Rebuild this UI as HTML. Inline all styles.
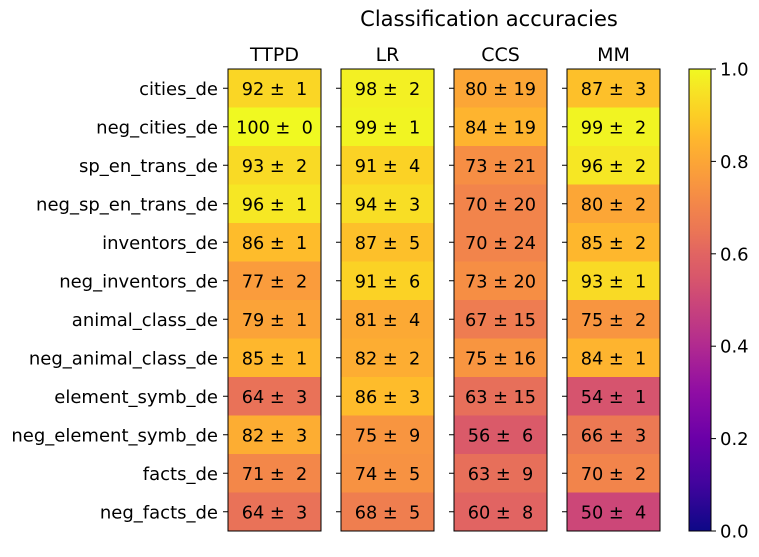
<!DOCTYPE html>
<html><head><meta charset="utf-8"><style>
html,body{margin:0;padding:0;background:#fff;}
svg text{font-family:"DejaVu Sans","Liberation Sans",sans-serif;white-space:pre;}
</style></head><body>
<svg id="s" width="759" height="552" xmlns="http://www.w3.org/2000/svg"></svg>
<script>
(function(){
const stops=[[0,'#0d0887'],[0.1,'#41049d'],[0.2,'#6a00a8'],[0.3,'#8f0da4'],[0.4,'#b12a90'],[0.5,'#cc4778'],[0.55,'#d8576b'],[0.6,'#e16462'],[0.65,'#eb7655'],[0.7,'#f2844b'],[0.75,'#f89540'],[0.8,'#fca636'],[0.85,'#feb72d'],[0.9,'#fcce25'],[0.95,'#f7e225'],[1,'#f0f921']];
function hx(h){return [1,3,5].map(i=>parseInt(h.substr(i,2),16));}
function cmap(v){for(let i=1;i<stops.length;i++){if(v<=stops[i][0]){const a=stops[i-1],b=stops[i];const t=(v-a[0])/(b[0]-a[0]);const ca=hx(a[1]),cb=hx(b[1]);return 'rgb('+ca.map((c,k)=>Math.round(c+(cb[k]-c)*t)).join(',')+')';}}return stops[stops.length-1][1];}
const rows=['cities_de','neg_cities_de','sp_en_trans_de','neg_sp_en_trans_de','inventors_de','neg_inventors_de','animal_class_de','neg_animal_class_de','element_symb_de','neg_element_symb_de','facts_de','neg_facts_de'];
const data={TTPD:[[92,1],[100,0],[93,2],[96,1],[86,1],[77,2],[79,1],[85,1],[64,3],[82,3],[71,2],[64,3]],
LR:[[98,2],[99,1],[91,4],[94,3],[87,5],[91,6],[81,4],[82,2],[86,3],[75,9],[74,5],[68,5]],
CCS:[[80,19],[84,19],[73,21],[70,20],[70,24],[73,20],[67,15],[75,16],[63,15],[56,6],[63,9],[60,8]],
MM:[[87,3],[99,2],[96,2],[80,2],[85,2],[93,1],[75,2],[84,1],[54,1],[66,3],[70,2],[50,4]]};
const xs=[228,341,454,567],W=93,T=69,B=531,rh=(B-T)/12;
let h='<text x="489" y="26" font-size="21" text-anchor="middle">Classification accuracies</text>';
Object.keys(data).forEach((k,pi)=>{const x=xs[pi];
h+=`<text x="${x+W/2}" y="61" font-size="19" text-anchor="middle">${k}</text>`;
data[k].forEach((d,i)=>{const y=T+i*rh;
h+=`<rect x="${x}" y="${y}" width="${W}" height="${rh+0.5}" fill="${cmap(d[0]/100)}"/>`;
const s=d[0]+' ± '+(d[1]<10?' ':'')+d[1];
h+=`<text x="${x+W/2}" y="${y+rh/2+6.5}" font-size="17.7" text-anchor="middle">${s}</text>`;
h+=`<line x1="${x-5}" x2="${x}" y1="${y+rh/2}" y2="${y+rh/2}" stroke="#000" stroke-width="1"/>`;
if(pi==0)h+=`<text x="${x-10}" y="${y+rh/2+6.5}" font-size="18" text-anchor="end">${rows[i]}</text>`;});
h+=`<rect x="${x}" y="${T}" width="${W}" height="${B-T}" fill="none" stroke="#000" stroke-width="1"/>`;});
h+='<defs><linearGradient id="g" x1="0" y1="1" x2="0" y2="0">';
for(let i=0;i<=20;i++)h+=`<stop offset="${i/20}" stop-color="${cmap(i/20)}"/>`;
h+='</linearGradient></defs>';
h+=`<rect x="689" y="${T}" width="22" height="${B-T}" fill="url(#g)" stroke="#000" stroke-width="1"/>`;
for(let i=0;i<=5;i++){const y=B-(B-T)*i/5;
h+=`<line x1="711" x2="716" y1="${y}" y2="${y}" stroke="#000"/>`;
h+=`<text x="720" y="${y+6.5}" font-size="18">${(i/5).toFixed(1)}</text>`;}
document.getElementById('s').innerHTML=h;
})();
</script>
</body></html>
